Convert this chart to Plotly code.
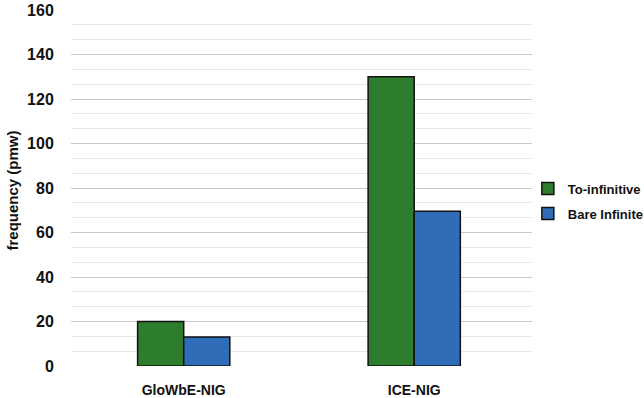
import plotly.graph_objects as go

categories = ["GloWbE-NIG", "ICE-NIG"]
series_names = ["To-infinitive", "Bare Infinite"]
to_infinitive = [20, 130]
bare_infinite = [13, 69.6]
colors = ["#2e7d2e", "#2f6db8"]
y_title = "frequency (pmw)"
minor_grid = [v * 20 / 3 for v in range(1, 24) if v % 3 != 0]

fig = go.Figure()
for i, (name, vals) in enumerate(zip(series_names, [to_infinitive, bare_infinite])):
    fig.add_trace(go.Bar(
        x=categories, y=vals, name=name,
        marker=dict(color=colors[i], line=dict(color="#111111", width=1.5)),
        legendgroup=f"g{i}",
    ))

fig.update_layout(
    width=644, height=398,
    margin=dict(l=71, r=112, t=10, b=32, autoexpand=False),
    paper_bgcolor="white", plot_bgcolor="white",
    barmode="group", bargap=0.6, bargroupgap=0,
    font=dict(family="Liberation Sans, Arial, sans-serif", color="#111111"),
    legend=dict(x=0.991, y=0.463, xanchor="left", yanchor="middle",
                font=dict(size=13, weight="bold"), tracegroupgap=5,
                bgcolor="rgba(0,0,0,0)"),
    xaxis=dict(showline=False, showgrid=False, range=[-0.489, 1.511],
               ticks="outside", ticklen=11, tickcolor="rgba(0,0,0,0)",
               tickfont=dict(size=14, weight="bold")),
    yaxis=dict(range=[0, 160], tick0=0, dtick=20, showline=False, zeroline=False,
               gridcolor="#c8c8c8", gridwidth=1,
               ticks="outside", ticklen=13, tickcolor="rgba(0,0,0,0)",
               tickfont=dict(size=16, weight="bold"),
               minor=dict(tickmode="array", tickvals=minor_grid, showgrid=True,
                          gridcolor="#e8e8e8", gridwidth=1, ticks="")),
)
fig.add_annotation(text=y_title, xref="paper", yref="paper",
                   x=-0.150, y=0.494, textangle=-90, showarrow=False,
                   font=dict(size=15, weight="bold"))

fig.write_html("out.html")
